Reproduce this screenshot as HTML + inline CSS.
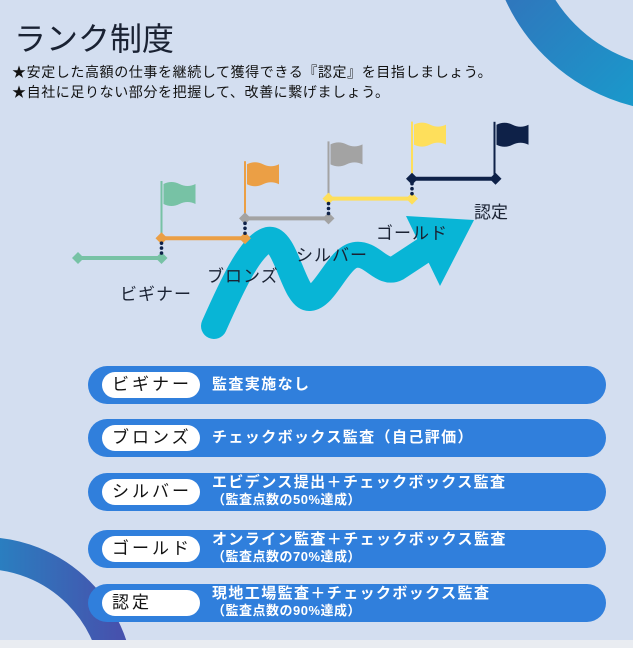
<!DOCTYPE html>
<html><head><meta charset="utf-8"><style>
body{margin:0;width:633px;height:648px;overflow:hidden;background:#d3def0;font-family:"Liberation Sans","Noto Sans CJK JP",sans-serif;position:relative}
.t{position:absolute;white-space:nowrap}
.bar{position:absolute;left:88px;width:518px;height:38px;border-radius:19px;background:#307fdc}
.pill{position:absolute;left:14px;top:6px;width:98px;height:26px;border-radius:13px;background:#fff;color:#111;font-size:17px;line-height:26px;padding-left:10px;box-sizing:border-box;letter-spacing:3px;overflow:hidden}
.d{position:absolute;left:124px;color:#fff;font-size:15px;font-weight:bold;letter-spacing:1.4px;line-height:17px;white-space:nowrap}
.d small{font-size:13px;display:block;letter-spacing:0.5px}
</style></head><body>
<svg width="633" height="648" style="position:absolute;left:0;top:0">
<defs>
<linearGradient id="g1" x1="0" y1="0" x2="1" y2="1"><stop offset="0" stop-color="#4652ad"/><stop offset="1" stop-color="#07b7d8"/></linearGradient>
<linearGradient id="g2" x1="0" y1="0" x2="1" y2="0"><stop offset="0" stop-color="#07b7d8"/><stop offset="1" stop-color="#4652ad"/></linearGradient>
</defs>
<circle cx="680" cy="-80" r="170" fill="none" stroke="url(#g1)" stroke-width="44"/>
<circle cx="-17" cy="688" r="135" fill="none" stroke="url(#g2)" stroke-width="32"/>
<rect x="0" y="640" width="633" height="8" fill="#e9ecf1"/>
<g>
<path d="M214,326 C230,290 250,245 268,240 C286,236 294,300 310,298 C326,296 338,258 355,255 C372,252 382,276 397,268 L432,245" fill="none" stroke="#08b5d6" stroke-width="26" stroke-linejoin="round" stroke-linecap="round"/>
<polygon points="406,216 474,220 440,286" fill="#08b5d6"/>
</g>
<g id="stairs"></g>
</svg>
<div class="t" style="left:14px;top:14px;font-size:32px;color:#1a2233">ランク制度</div>
<div class="t" style="left:12px;top:62px;font-size:14px;color:#111;line-height:20px;letter-spacing:0.6px">★安定した高額の仕事を継続して獲得できる『認定』を目指しましょう。<br>★自社に足りない部分を把握して、改善に繋げましょう。</div>
<div class="t" style="left:120px;top:280px;font-size:17px;color:#1a2233;letter-spacing:1px">ビギナー</div>
<div class="t" style="left:207px;top:262px;font-size:17px;color:#1a2233;letter-spacing:1px">ブロンズ</div>
<div class="t" style="left:296px;top:241px;font-size:17px;color:#1a2233;letter-spacing:1px">シルバー</div>
<div class="t" style="left:376px;top:219px;font-size:17px;color:#1a2233;letter-spacing:1px">ゴールド</div>
<div class="t" style="left:474px;top:198px;font-size:17px;color:#1a2233">認定</div>

<div class="bar" style="top:366px"><div class="pill">ビギナー</div><div class="d" style="top:10px">監査実施なし</div></div>
<div class="bar" style="top:419px"><div class="pill">ブロンズ</div><div class="d" style="top:10px">チェックボックス監査（自己評価）</div></div>
<div class="bar" style="top:473px"><div class="pill">シルバー</div><div class="d" style="top:1px">エビデンス提出＋チェックボックス監査<small>（監査点数の50%達成）</small></div></div>
<div class="bar" style="top:530px"><div class="pill">ゴールド</div><div class="d" style="top:1px">オンライン監査＋チェックボックス監査<small>（監査点数の70%達成）</small></div></div>
<div class="bar" style="top:584px"><div class="pill">認定</div><div class="d" style="top:1px">現地工場監査＋チェックボックス監査<small>（監査点数の90%達成）</small></div></div>

<script>
const ranks = ["ビギナー","ブロンズ","シルバー","ゴールド","認定"];
const levels = [1,2,3,4,5];
const colors = ["#77c2a5","#eb9f45","#a3a3a3","#fedf5b","#0e2148"];
const x0=78, step=83.5, yBase=258, yStep=19.8;
function xs(i){return x0+i*step;}
function ys(v){return yBase-(v-1)*yStep;}
const NS="http://www.w3.org/2000/svg";
const g=document.getElementById('stairs');
function mk(tag,attrs){const e=document.createElementNS(NS,tag);for(const k in attrs)e.setAttribute(k,attrs[k]);g.appendChild(e);return e;}
levels.forEach((v,i)=>{
  const y=ys(v), xa=xs(i), xb=xs(i+1), c=colors[i];
  const ln=mk('line',{x1:xa,y1:y,x2:xb,y2:y,stroke:c,'stroke-width':4});
  
  
  [xa,xb].forEach(x=>{const d=mk('polygon',{points:`${x},${y-6} ${x+6},${y} ${x},${y+6} ${x-6},${y}`,fill:c});
    
    });
  if(i>0){const yp=ys(levels[i-1]);for(let k=1;k<4;k++){const dt=mk('circle',{cx:xa,cy:y+(yp-y)*k/4,r:1.8,fill:'#0e2148'});
    
    }}
  const top=y-(i==4?57:77), fx=xb+(i==4?-1:0);
  const p=mk('line',{x1:fx,y1:top,x2:fx,y2:y-(i==4?0:19.8),stroke:c,'stroke-width':2});
  
  
  const f=mk('path',{d:`M${fx+2},${top+3} q8,-4 16,0 t16,0 v20 q-8,-4 -16,0 t-16,0 z`,fill:c});
  
  
});
</script>
</body></html>
